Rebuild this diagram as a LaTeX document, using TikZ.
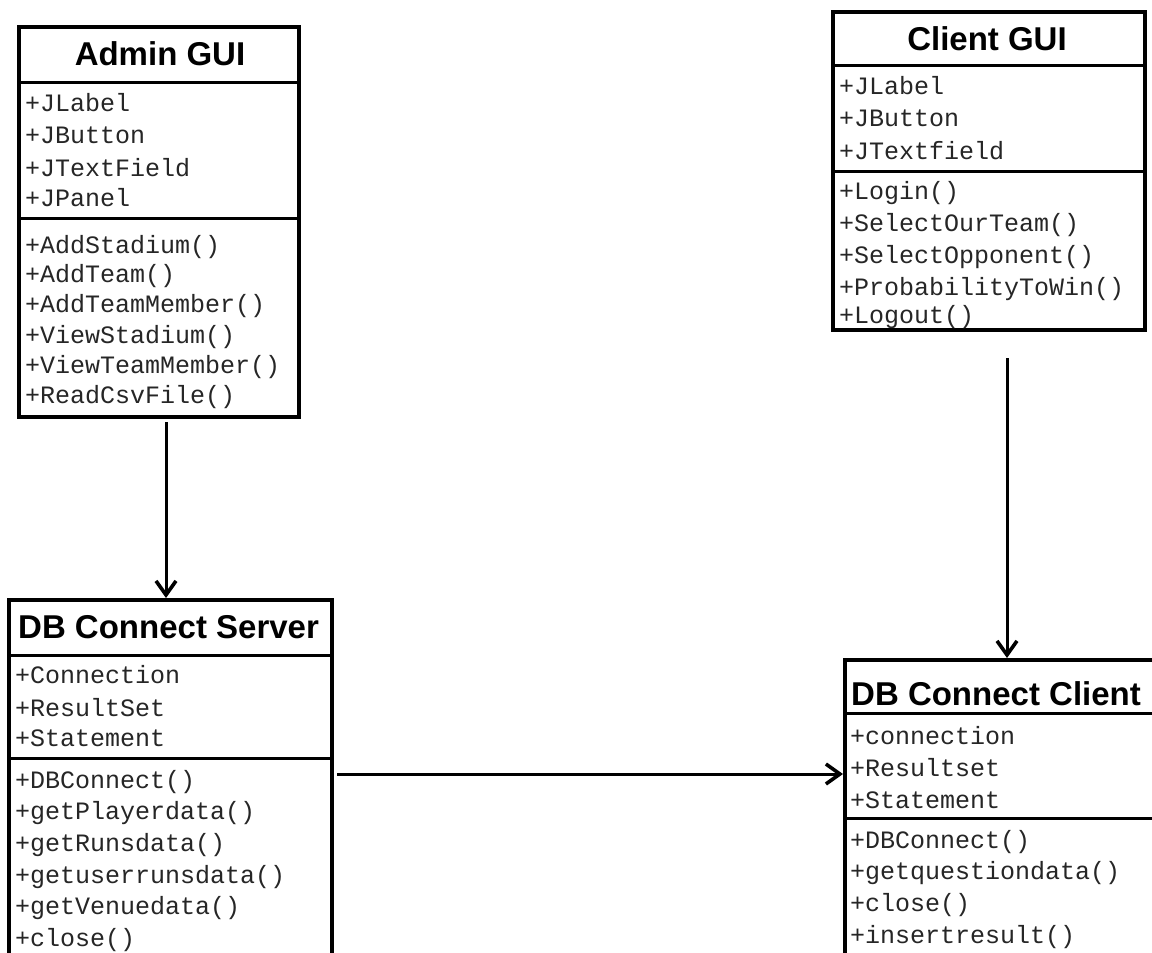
\documentclass[tikz,border=0pt]{standalone}
\usepackage{fontspec}
\setmainfont{Liberation Sans}
\newfontfamily\monof{Liberation Mono}
\newfontfamily\headf{Liberation Sans}
\usetikzlibrary{arrows.meta,calc}
\begin{document}
\begin{tikzpicture}[x=1pt,y=-1pt,
  classbox/.style={draw, line width=3.5pt, fill=white, anchor=north west, inner sep=0pt},
  sep/.style={line width=3pt},
  member/.style={anchor=base west, inner sep=0pt, text=black!85, font=\monof\fontsize{25}{25}\selectfont},
  title/.style={inner sep=0pt, font=\headf\bfseries\fontsize{33}{33}\selectfont},
  conn/.style={line width=3pt, -{Straight Barb[length=14pt,width=20pt,line width=3.6pt]}}]
\useasboundingbox (0,0) rectangle (1152,953);
\fill[white] (0,0) rectangle (1152,953);
\clip (0,0) rectangle (1152,953);

% Admin GUI
\node[classbox, minimum width=280pt, minimum height=390pt] (admin) at (17,25) {};
\draw[sep] (admin.west |- 0,82) -- (admin.east |- 0,82);
\draw[sep] (admin.west |- 0,218) -- (admin.east |- 0,218);
\node[title, anchor=base] (adminT) at (160,65) {Admin GUI};
\node[member] (a1) at (25,111) {+JLabel};
\node[member] (a2) at (25,143) {+JButton};
\node[member] (a3) at (25,176) {+JTextField};
\node[member] (a4) at (25,206) {+JPanel};
\node[member] (a5) at (25,253) {+AddStadium()};
\node[member] (a6) at (25,282) {+AddTeam()};
\node[member] (a7) at (25,312) {+AddTeamMember()};
\node[member] (a8) at (25,343) {+ViewStadium()};
\node[member] (a9) at (25,373) {+ViewTeamMember()};
\node[member] (a10) at (25,403) {+ReadCsvFile()};

% Client GUI
\node[classbox, minimum width=312pt, minimum height=318pt] (client) at (831,10) {};
\draw[sep] (client.west |- 0,65) -- (client.east |- 0,65);
\draw[sep] (client.west |- 0,171) -- (client.east |- 0,171);
\node[title, anchor=base] (clientT) at (987,50) {Client GUI};
\node[member] (c1) at (839,94) {+JLabel};
\node[member] (c2) at (839,126) {+JButton};
\node[member] (c3) at (839,159) {+JTextfield};
\node[member] (c4) at (839,199) {+Login()};
\node[member] (c5) at (839,231) {+SelectOurTeam()};
\node[member] (c6) at (839,263) {+SelectOpponent()};
\node[member] (c7) at (839,295) {+ProbabilityToWin()};
\node[member] (c8) at (839,323) {+Logout()};

% DB Connect Server
\node[classbox, minimum width=323pt, minimum height=380pt] (dbs) at (7,598) {};
\draw[sep] (dbs.west |- 0,655) -- (dbs.east |- 0,655);
\draw[sep] (dbs.west |- 0,758) -- (dbs.east |- 0,758);
\node[title, anchor=base west] (dbsT) at (18,638) {DB Connect Server};
\node[member] (s1) at (15,683) {+Connection};
\node[member] (s2) at (15,716) {+ResultSet};
\node[member] (s3) at (15,746) {+Statement};
\node[member] (s4) at (15,788) {+DBConnect()};
\node[member] (s5) at (15,819) {+getPlayerdata()};
\node[member] (s6) at (15,851) {+getRunsdata()};
\node[member] (s7) at (15,883) {+getuserrunsdata()};
\node[member] (s8) at (15,914) {+getVenuedata()};
\node[member] (s9) at (15,946) {+close()};

% DB Connect Client
\node[classbox, minimum width=322pt, minimum height=320pt] (dbc) at (843,658) {};
\draw[sep] (dbc.west |- 0,713) -- (dbc.east |- 0,713);
\draw[sep] (dbc.west |- 0,818) -- (dbc.east |- 0,818);
\node[title, anchor=base west] (dbcT) at (851,705) {DB Connect Client};
\node[member] (d1) at (850,744) {+connection};
\node[member] (d2) at (850,776) {+Resultset};
\node[member] (d3) at (850,808) {+Statement};
\node[member] (d4) at (850,848) {+DBConnect()};
\node[member] (d5) at (850,879) {+getquestiondata()};
\node[member] (d6) at (850,911) {+close()};
\node[member] (d7) at (850,943) {+insertresult()};

% connectors
\coordinate (ta) at (166,422);
\draw[conn] (ta) -- (ta |- dbs.north);
\coordinate (tc) at (1007,358);
\draw[conn] (tc) -- (tc |- dbc.north);
\coordinate (th) at (337,774);
\draw[conn] (th) -- (th -| dbc.west);
\end{tikzpicture}
\end{document}
